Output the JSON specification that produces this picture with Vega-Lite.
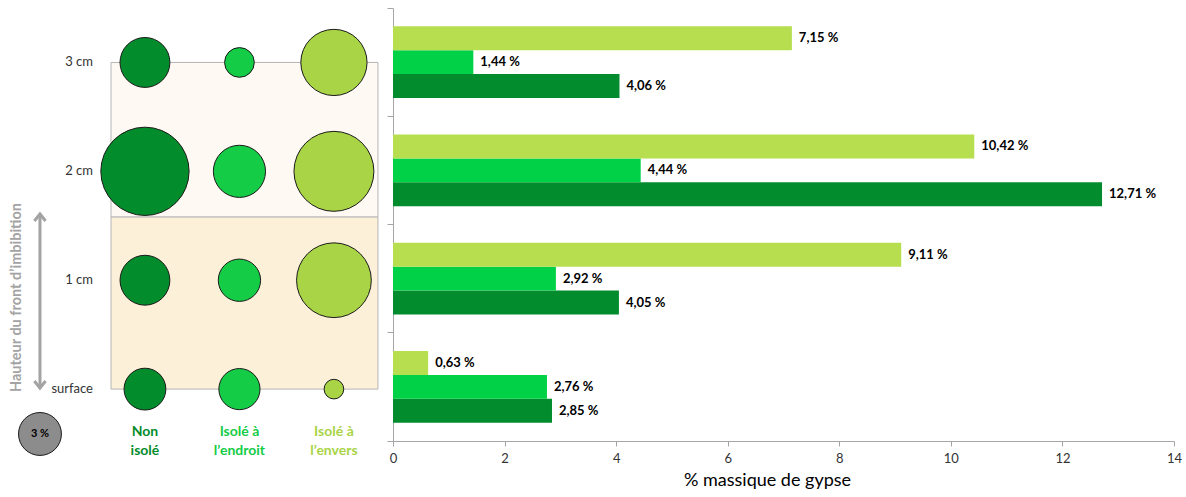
{
  "$schema": "https://vega.github.io/schema/vega-lite/v6.json",
  "padding": {"left": 0, "top": 7, "right": 0, "bottom": 0},
  "spacing": 0,
  "config": {"view": {"stroke": null}, "font": "Lato"},
  "datasets": {
    "gypse": [
      {"hauteur": "3 cm", "h": 3, "serie": "Non isolé", "col": 1, "valeur": 4.06, "label": "4,06 %"},
      {"hauteur": "3 cm", "h": 3, "serie": "Isolé à l’endroit", "col": 2, "valeur": 1.44, "label": "1,44 %"},
      {"hauteur": "3 cm", "h": 3, "serie": "Isolé à l’envers", "col": 3, "valeur": 7.15, "label": "7,15 %"},
      {"hauteur": "2 cm", "h": 2, "serie": "Non isolé", "col": 1, "valeur": 12.71, "label": "12,71 %"},
      {"hauteur": "2 cm", "h": 2, "serie": "Isolé à l’endroit", "col": 2, "valeur": 4.44, "label": "4,44 %"},
      {"hauteur": "2 cm", "h": 2, "serie": "Isolé à l’envers", "col": 3, "valeur": 10.42, "label": "10,42 %"},
      {"hauteur": "1 cm", "h": 1, "serie": "Non isolé", "col": 1, "valeur": 4.05, "label": "4,05 %"},
      {"hauteur": "1 cm", "h": 1, "serie": "Isolé à l’endroit", "col": 2, "valeur": 2.92, "label": "2,92 %"},
      {"hauteur": "1 cm", "h": 1, "serie": "Isolé à l’envers", "col": 3, "valeur": 9.11, "label": "9,11 %"},
      {"hauteur": "surface", "h": 0, "serie": "Non isolé", "col": 1, "valeur": 2.85, "label": "2,85 %"},
      {"hauteur": "surface", "h": 0, "serie": "Isolé à l’endroit", "col": 2, "valeur": 2.76, "label": "2,76 %"},
      {"hauteur": "surface", "h": 0, "serie": "Isolé à l’envers", "col": 3, "valeur": 0.63, "label": "0,63 %"}
    ],
    "hauteurs": [
      {"hauteur": "3 cm", "h": 3},
      {"hauteur": "2 cm", "h": 2},
      {"hauteur": "1 cm", "h": 1},
      {"hauteur": "surface", "h": 0}
    ],
    "colonnes": [
      {"serie": "Non isolé", "col": 1, "t": "Non\nisolé"},
      {"serie": "Isolé à l’endroit", "col": 2, "t": "Isolé à\nl’endroit"},
      {"serie": "Isolé à l’envers", "col": 3, "t": "Isolé à\nl’envers"}
    ]
  },
  "resolve": {"scale": {"color": "independent", "size": "independent", "x": "independent", "y": "independent"}},
  "hconcat": [
    {
      "width": 386,
      "height": 490,
      "layer": [
        {
          "data": {"values": [{"x0": 0.641, "x1": 3.466, "y0": 1.58, "y1": 3}]},
          "mark": {"type": "rect", "fill": "#FEF9F3", "stroke": "#B5B5B5", "strokeWidth": 1},
          "encoding": {
            "x": {"field": "x0", "type": "quantitative", "scale": {"domain": [-0.534, 3.551], "nice": false, "zero": false}, "axis": null},
            "x2": {"field": "x1"},
            "y": {"field": "y0", "type": "quantitative", "scale": {"domain": [-1, 3.5], "nice": false, "zero": false}, "axis": null},
            "y2": {"field": "y1"}
          }
        },
        {
          "data": {"values": [{"x0": 0.641, "x1": 3.466, "y0": 0, "y1": 1.58}]},
          "mark": {"type": "rect", "fill": "#FDF0D9", "stroke": "#B5B5B5", "strokeWidth": 1},
          "encoding": {
            "x": {"field": "x0", "type": "quantitative", "scale": {"domain": [-0.534, 3.551], "nice": false, "zero": false}, "axis": null},
            "x2": {"field": "x1"},
            "y": {"field": "y0", "type": "quantitative", "scale": {"domain": [-1, 3.5], "nice": false, "zero": false}, "axis": null},
            "y2": {"field": "y1"}
          }
        },
        {
          "data": {"values": [{"x": -0.111, "y0": 0.03, "y1": 1.59}]},
          "mark": {"type": "rule", "stroke": "#A3A3A3", "strokeWidth": 3},
          "encoding": {
            "x": {"field": "x", "type": "quantitative", "scale": {"domain": [-0.534, 3.551], "nice": false, "zero": false}, "axis": null},
            "y": {"field": "y0", "type": "quantitative", "scale": {"domain": [-1, 3.5], "nice": false, "zero": false}, "axis": null},
            "y2": {"field": "y1"}
          }
        },
        {
          "data": {"values": [{"x": -0.111, "y": 1.608}]},
          "mark": {"type": "point", "filled": false, "stroke": "#A3A3A3", "strokeWidth": 3, "size": 196, "opacity": 1, "shape": "M-0.8,1L0,0L0.8,1"},
          "encoding": {
            "x": {"field": "x", "type": "quantitative", "scale": {"domain": [-0.534, 3.551], "nice": false, "zero": false}, "axis": null},
            "y": {"field": "y", "type": "quantitative", "scale": {"domain": [-1, 3.5], "nice": false, "zero": false}, "axis": null}
          }
        },
        {
          "data": {"values": [{"x": -0.111, "y": 0.01}]},
          "mark": {"type": "point", "filled": false, "stroke": "#A3A3A3", "strokeWidth": 3, "size": 196, "opacity": 1, "shape": "M-0.8,-1L0,0L0.8,-1"},
          "encoding": {
            "x": {"field": "x", "type": "quantitative", "scale": {"domain": [-0.534, 3.551], "nice": false, "zero": false}, "axis": null},
            "y": {"field": "y", "type": "quantitative", "scale": {"domain": [-1, 3.5], "nice": false, "zero": false}, "axis": null}
          }
        },
        {
          "data": {"values": [{"x": -0.355, "y": 0.841, "t": "Hauteur du front d’imbibition"}]},
          "mark": {"type": "text", "angle": 270, "align": "center", "baseline": "middle", "fontSize": 14.5, "fontWeight": "bold", "color": "#A3A3A3"},
          "encoding": {
            "x": {"field": "x", "type": "quantitative", "scale": {"domain": [-0.534, 3.551], "nice": false, "zero": false}, "axis": null},
            "y": {"field": "y", "type": "quantitative", "scale": {"domain": [-1, 3.5], "nice": false, "zero": false}, "axis": null},
            "text": {"field": "t"}
          }
        },
        {
          "data": {"name": "hauteurs"},
          "mark": {"type": "text", "align": "right", "baseline": "middle", "fontSize": 13, "color": "#333333"},
          "encoding": {
            "x": {"datum": 0.45, "type": "quantitative", "scale": {"domain": [-0.534, 3.551], "nice": false, "zero": false}, "axis": null},
            "y": {"field": "h", "type": "quantitative", "scale": {"domain": [-1, 3.5], "nice": false, "zero": false}, "axis": null},
            "text": {"field": "hauteur"}
          }
        },
        {
          "data": {"name": "gypse"},
          "mark": {"type": "point", "filled": true, "opacity": 1, "stroke": "#1A1A1A", "strokeWidth": 1},
          "encoding": {
            "x": {"field": "col", "type": "quantitative", "scale": {"domain": [-0.534, 3.551], "nice": false, "zero": false}, "axis": null},
            "y": {"field": "h", "type": "quantitative", "scale": {"domain": [-1, 3.5], "nice": false, "zero": false}, "axis": null},
            "size": {"field": "valeur", "type": "quantitative", "scale": {"domain": [0, 12.71], "range": [0, 7797], "zero": true}, "legend": null},
            "color": {"field": "serie", "type": "nominal", "scale": {"domain": ["Non isolé", "Isolé à l’endroit", "Isolé à l’envers"], "range": ["#038C2B", "#14CC46", "#A8D446"]}, "legend": null}
          }
        },
        {
          "data": {"name": "colonnes"},
          "mark": {"type": "text", "align": "center", "baseline": "middle", "fontSize": 14, "fontWeight": "bold", "lineBreak": "\n", "lineHeight": 19},
          "encoding": {
            "x": {"field": "col", "type": "quantitative", "scale": {"domain": [-0.534, 3.551], "nice": false, "zero": false}, "axis": null},
            "y": {"datum": -0.398, "type": "quantitative", "scale": {"domain": [-1, 3.5], "nice": false, "zero": false}, "axis": null},
            "text": {"field": "t"},
            "color": {"field": "serie", "type": "nominal", "scale": {"domain": ["Non isolé", "Isolé à l’endroit", "Isolé à l’envers"], "range": ["#038C2B", "#14CC46", "#A8D446"]}, "legend": null}
          }
        },
        {
          "data": {"values": [{"x": -0.111, "y": -0.412, "valeur": 3}]},
          "mark": {"type": "point", "filled": true, "opacity": 1, "fill": "#8C8C8C", "stroke": "#1A1A1A", "strokeWidth": 1},
          "encoding": {
            "x": {"field": "x", "type": "quantitative", "scale": {"domain": [-0.534, 3.551], "nice": false, "zero": false}, "axis": null},
            "y": {"field": "y", "type": "quantitative", "scale": {"domain": [-1, 3.5], "nice": false, "zero": false}, "axis": null},
            "size": {"field": "valeur", "type": "quantitative", "scale": {"domain": [0, 12.71], "range": [0, 7797], "zero": true}, "legend": null}
          }
        },
        {
          "data": {"values": [{"x": -0.111, "y": -0.412, "t": "3 %"}]},
          "mark": {"type": "text", "align": "center", "baseline": "middle", "fontSize": 11, "fontWeight": "bold", "color": "#000000"},
          "encoding": {
            "x": {"field": "x", "type": "quantitative", "scale": {"domain": [-0.534, 3.551], "nice": false, "zero": false}, "axis": null},
            "y": {"field": "y", "type": "quantitative", "scale": {"domain": [-1, 3.5], "nice": false, "zero": false}, "axis": null},
            "text": {"field": "t"}
          }
        }
      ]
    },
    {
      "width": 781,
      "height": 433,
      "data": {"name": "gypse"},
      "encoding": {
        "y": {
          "field": "hauteur", "type": "nominal",
          "sort": ["3 cm", "2 cm", "1 cm", "surface"],
          "scale": {"paddingInner": 0, "paddingOuter": 0},
          "axis": {"title": null, "labels": false, "bandPosition": 1, "tickExtra": true, "tickSize": 6, "domainColor": "#A6A6A6", "tickColor": "#A6A6A6", "grid": false, "minExtent": 0, "maxExtent": 6}
        },
        "yOffset": {
          "field": "serie", "type": "nominal",
          "sort": ["Isolé à l’envers", "Isolé à l’endroit", "Non isolé"],
          "scale": {"paddingInner": 0, "paddingOuter": 0.76}
        },
        "x": {
          "field": "valeur", "type": "quantitative",
          "scale": {"domain": [0, 14], "nice": false},
          "axis": {"values": [0, 2, 4, 6, 8, 10, 12, 14], "title": "% massique de gypse", "grid": false, "domainColor": "#A6A6A6", "tickColor": "#A6A6A6", "tickSize": 5, "labelFontSize": 13, "labelColor": "#333333", "labelPadding": 6, "labelFlush": false, "titleFontSize": 18, "titleFontWeight": "normal", "titleColor": "#000000", "titlePadding": 6, "titleX": 374}
        }
      },
      "layer": [
        {
          "mark": {"type": "bar"},
          "encoding": {
            "color": {"field": "serie", "type": "nominal", "scale": {"domain": ["Non isolé", "Isolé à l’endroit", "Isolé à l’envers"], "range": ["#038C2D", "#00D146", "#B6DE4E"]}, "legend": null}
          }
        },
        {
          "mark": {"type": "text", "align": "left", "baseline": "middle", "dx": 7, "fontSize": 13, "fontWeight": "bold", "color": "#000000"},
          "encoding": {"text": {"field": "label"}}
        }
      ]
    }
  ]
}
